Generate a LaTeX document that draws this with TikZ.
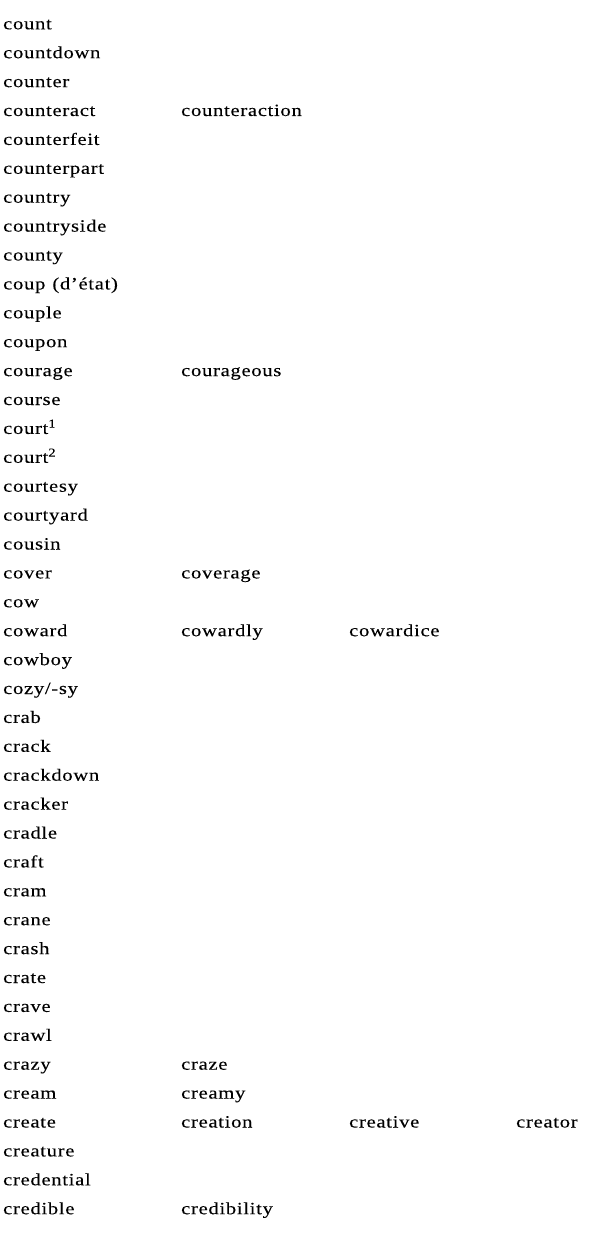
\documentclass[tikz,border=0pt]{standalone}
\usepackage{fontspec}
\newfontfamily\wordfont[FakeStretch=1.2, LetterSpace=4, FakeBold=0.12]{Liberation Serif}
\newcommand{\wordsize}{\fontsize{17.2pt}{20pt}\selectfont}
\tikzset{word/.style={anchor=base west, inner sep=0pt, font=\wordfont\wordsize}}

\begin{document}
\begin{tikzpicture}[x=1pt, y=-28.9pt]
                \useasboundingbox (0,-1.014) rectangle (592,42.170);

                \node[word] (count) at (3,0) {count};
                \node[word] (countdown) at (3,1) {countdown};
                \node[word] (counter) at (3,2) {counter};
                \node[word] (counteract) at (3,3) {counteract};
                \node[word] (counterfeit) at (3,4) {counterfeit};
                \node[word] (counterpart) at (3,5) {counterpart};
                \node[word] (country) at (3,6) {country};
                \node[word] (countryside) at (3,7) {countryside};
                \node[word] (county) at (3,8) {county};
                \node[word] (coup) at (3,9) {coup\hspace{7pt}(d’état)};
                \node[word] (couple) at (3,10) {couple};
                \node[word] (coupon) at (3,11) {coupon};
                \node[word] (courage) at (3,12) {courage};
                \node[word] (course) at (3,13) {course};
                \node[word] (court1) at (3,14) {court\textsuperscript{1}};
                \node[word] (court2) at (3,15) {court\textsuperscript{2}};
                \node[word] (courtesy) at (3,16) {courtesy};
                \node[word] (courtyard) at (3,17) {courtyard};
                \node[word] (cousin) at (3,18) {cousin};
                \node[word] (cover) at (3,19) {cover};
                \node[word] (cow) at (3,20) {cow};
                \node[word] (coward) at (3,21) {coward};
                \node[word] (cowboy) at (3,22) {cowboy};
                \node[word] (cozy) at (3,23) {cozy/-sy};
                \node[word] (crab) at (3,24) {crab};
                \node[word] (crack) at (3,25) {crack};
                \node[word] (crackdown) at (3,26) {crackdown};
                \node[word] (cracker) at (3,27) {cracker};
                \node[word] (cradle) at (3,28) {cradle};
                \node[word] (craft) at (3,29) {craft};
                \node[word] (cram) at (3,30) {cram};
                \node[word] (crane) at (3,31) {crane};
                \node[word] (crash) at (3,32) {crash};
                \node[word] (crate) at (3,33) {crate};
                \node[word] (crave) at (3,34) {crave};
                \node[word] (crawl) at (3,35) {crawl};
                \node[word] (crazy) at (3,36) {crazy};
                \node[word] (cream) at (3,37) {cream};
                \node[word] (create) at (3,38) {create};
                \node[word] (creature) at (3,39) {creature};
                \node[word] (credential) at (3,40) {credential};
                \node[word] (credible) at (3,41) {credible};

                \node[word] (counteraction) at (181,3) {counteraction};
                \node[word] (courageous) at (181,12) {courageous};
                \node[word] (coverage) at (181,19) {coverage};
                \node[word] (cowardly) at (181,21) {cowardly};
                \node[word] (cowardice) at (349,21) {cowardice};
                \node[word] (craze) at (181,36) {craze};
                \node[word] (creamy) at (181,37) {creamy};
                \node[word] (creation) at (181,38) {creation};
                \node[word] (creative) at (349,38) {creative};
                \node[word] (creator) at (516,38) {creator};
                \node[word] (credibility) at (181,41) {credibility};
            \end{tikzpicture}
\end{document}
